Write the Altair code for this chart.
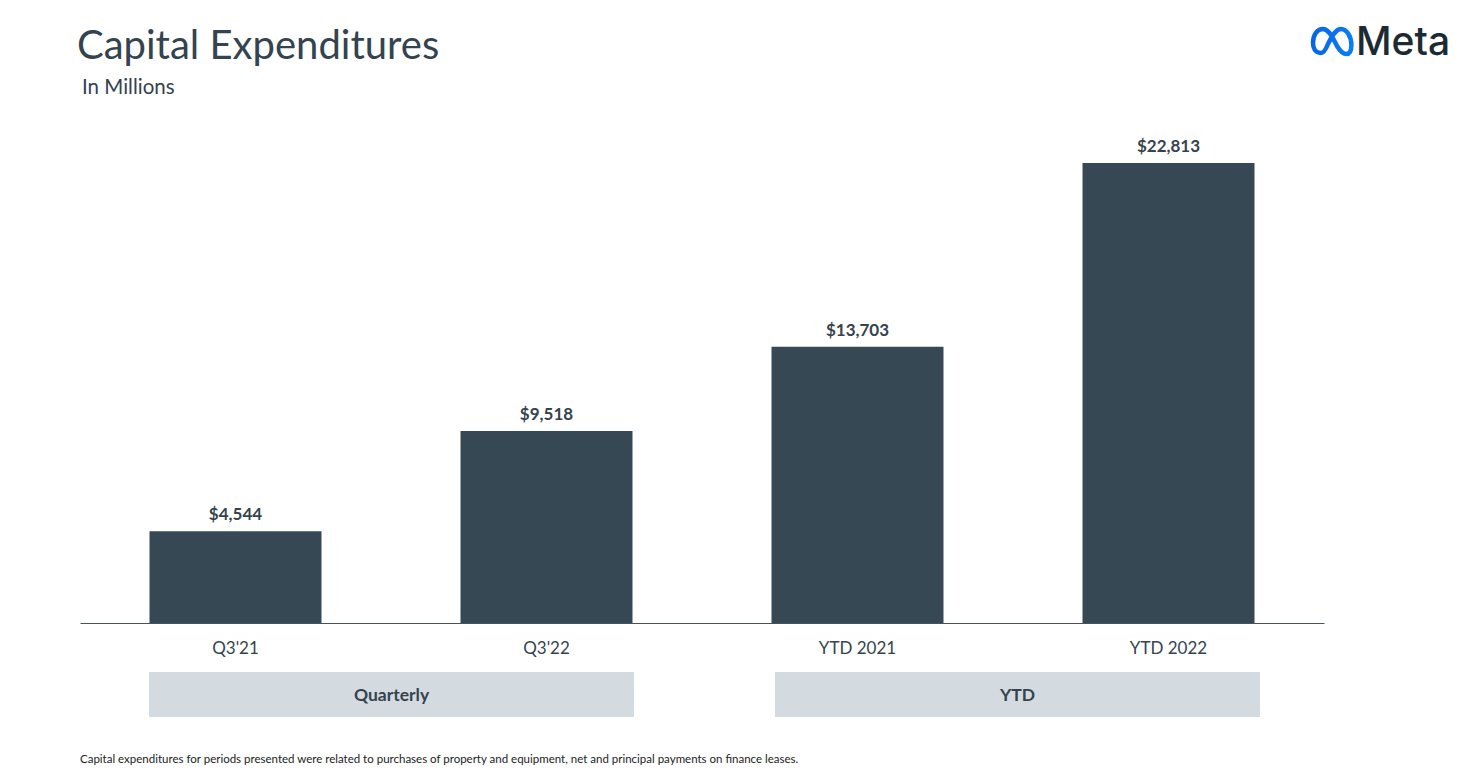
import altair as alt
import pandas as pd

# ---- data ----
periods = ["Q3'21", "Q3'22", "YTD 2021", "YTD 2022"]
capex = [4544, 9518, 13703, 22813]
groups = ["Quarterly", "YTD"]

title_text = "Capital Expenditures"
subtitle_text = "In Millions"
footnote_text = ("Capital expenditures for periods presented were related to purchases of "
                 "property and equipment, net and principal payments on finance leases.")
brand_text = "Meta"

bars_df = pd.DataFrame({"period": periods, "capex": capex})
groups_df = pd.DataFrame({"group": groups})

BAR = "#354854"
TXT = "#34434e"
BOX = "#d3dae0"
FONT = "Lato"

x_bars = alt.X("period:N", sort=periods,
               scale=alt.Scale(type="band", paddingInner=0.447, paddingOuter=0.2235),
               axis=alt.Axis(title=None, labelAngle=0, ticks=False, tickSize=0,
                             labelPadding=17, labelFont=FONT, labelFontSize=17,
                             labelColor=TXT, domainColor="#47525b", domainWidth=1,
                             grid=False))
y_scale = alt.Scale(domain=[0, 25937])

bars = alt.Chart(bars_df).mark_bar(color=BAR).encode(
    x=x_bars,
    y=alt.Y("capex:Q", scale=y_scale, axis=None),
)

values = alt.Chart(bars_df).mark_text(
    font=FONT, fontSize=17, fontWeight="bold", color=TXT,
    baseline="alphabetic", dy=-11
).encode(
    x=alt.X("period:N", sort=periods,
            scale=alt.Scale(type="band", paddingInner=0.447, paddingOuter=0.2235),
            axis=None),
    y=alt.Y("capex:Q", scale=y_scale, axis=None),
    text=alt.Text("capex:Q", format="$,.0f"),
)

gscale = alt.Scale(type="band", range=[69, 1180], paddingInner=0.2252, paddingOuter=0)
boxes = alt.Chart(groups_df).mark_rect(color=BOX).encode(
    x=alt.X("group:N", sort=groups, scale=gscale, axis=None),
    y=alt.value(572),
    y2=alt.value(617),
)
box_text = alt.Chart(groups_df).mark_text(
    font=FONT, fontSize=17.5, fontWeight="bold", color=TXT, baseline="middle"
).encode(
    x=alt.X("group:N", sort=groups, scale=gscale, axis=None),
    y=alt.value(596),
    text="group:N",
)

def label(text, x, y, size, color=TXT, weight="normal", font=FONT, align="left"):
    df = pd.DataFrame({"t": [text]})
    return alt.Chart(df).mark_text(
        font=font, fontSize=size, fontWeight=weight, color=color,
        align=align, baseline="alphabetic"
    ).encode(x=alt.value(x), y=alt.value(y), text="t:N")

title = label(title_text, -3, -41, 40, color="#33434f")
subtitle = label(subtitle_text, 2, -6, 20.5)
footnote = label(footnote_text, 0, 662.5, 11.5, color="#222222")
brand = label(brand_text, 1276, -45, 39, color="#1c2b33", weight=500, font="Inter")

logo_path = ("M -0.55,0.55 C -0.85,0.55 -0.95,0.3 -0.95,0.05 "
             "C -0.95,-0.35 -0.75,-0.65 -0.45,-0.65 "
             "C -0.15,-0.65 0.05,-0.2 0.25,0.2 "
             "C 0.4,0.45 0.55,0.6 0.72,0.6 "
             "C 0.9,0.6 0.97,0.4 0.97,0.15 "
             "C 0.97,-0.25 0.75,-0.65 0.45,-0.65 "
             "C 0.2,-0.65 0.0,-0.3 -0.2,0.1 "
             "C -0.3,0.35 -0.4,0.55 -0.55,0.55 Z")
logo = alt.Chart(pd.DataFrame({"t": ["logo"]})).mark_point(
    shape=logo_path, filled=False, size=1600, strokeWidth=4.5, opacity=1,
    stroke=alt.LinearGradient(
        gradient="linear",
        stops=[alt.GradientStop(color="#0668e1", offset=0),
               alt.GradientStop(color="#0a7cf7", offset=1)],
        x1=0, x2=1, y1=0, y2=0),
).encode(x=alt.value(1252), y=alt.value(-58))

chart = alt.layer(
    bars, values, boxes, box_text, title, subtitle, footnote, brand, logo
).resolve_scale(x="independent").properties(
    width=1244, height=523,
    padding={"left": 72, "top": 92, "right": 137, "bottom": 142},
    autosize=alt.AutoSizeParams(type="none"),
    background="white",
).configure_view(stroke=None)

chart.save("out.html", embed_options={"renderer": "svg", "actions": False})
